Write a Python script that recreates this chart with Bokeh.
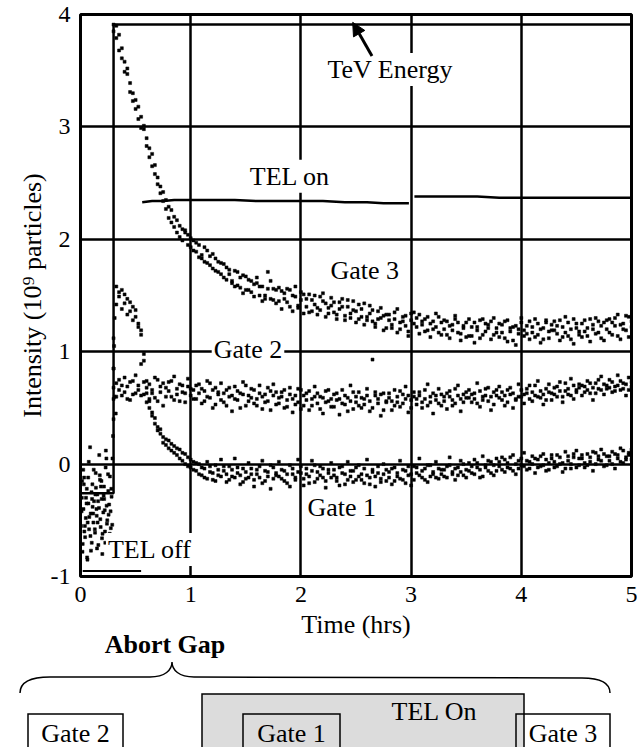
from bokeh.plotting import figure
from bokeh.models import Range1d, FixedTicker, Label, Arrow, NormalHead, Div
from bokeh.layouts import column
from bokeh.embed import file_html
from bokeh.resources import INLINE

FONT = "Liberation Serif"

# ---------------- data ----------------
x_ticks = [0, 1, 2, 3, 4, 5]
x_tick_labels = ["0", "1", "2", "3", "4", "5"]
y_ticks = [-1, 0, 1, 2, 3, 4]
y_tick_labels = ["-1", "0", "1", "2", "3", "4"]

# sample times (hrs) shared by the gate signals
t_hrs = [
    0.300, 0.325, 0.350, 0.375, 0.400, 0.425, 0.450, 0.475, 0.500, 0.525,
    0.550, 0.575, 0.600, 0.625, 0.650, 0.675, 0.700, 0.725, 0.750, 0.775,
    0.800, 0.825, 0.850, 0.875, 0.900, 0.925, 0.950, 0.975, 1.000, 1.025,
    1.050, 1.075, 1.100, 1.125, 1.150, 1.175, 1.200, 1.225, 1.250, 1.275,
    1.300, 1.325, 1.350, 1.375, 1.400, 1.425, 1.450, 1.475, 1.500, 1.525,
    1.550, 1.575, 1.600, 1.625, 1.650, 1.675, 1.700, 1.725, 1.750, 1.775,
    1.800, 1.825, 1.850, 1.875, 1.900, 1.925, 1.950, 1.975, 2.000, 2.025,
    2.050, 2.075, 2.100, 2.125, 2.150, 2.175, 2.200, 2.225, 2.250, 2.275,
    2.300, 2.325, 2.350, 2.375, 2.400, 2.425, 2.450, 2.475, 2.500, 2.525,
    2.550, 2.575, 2.600, 2.625, 2.650, 2.675, 2.700, 2.725, 2.750, 2.775,
    2.800, 2.825, 2.850, 2.875, 2.900, 2.925, 2.950, 2.975, 3.000, 3.025,
    3.050, 3.075, 3.100, 3.125, 3.150, 3.175, 3.200, 3.225, 3.250, 3.275,
    3.300, 3.325, 3.350, 3.375, 3.400, 3.425, 3.450, 3.475, 3.500, 3.525,
    3.550, 3.575, 3.600, 3.625, 3.650, 3.675, 3.700, 3.725, 3.750, 3.775,
    3.800, 3.825, 3.850, 3.875, 3.900, 3.925, 3.950, 3.975, 4.000, 4.025,
    4.050, 4.075, 4.100, 4.125, 4.150, 4.175, 4.200, 4.225, 4.250, 4.275,
    4.300, 4.325, 4.350, 4.375, 4.400, 4.425, 4.450, 4.475, 4.500, 4.525,
    4.550, 4.575, 4.600, 4.625, 4.650, 4.675, 4.700, 4.725, 4.750, 4.775,
    4.800, 4.825, 4.850, 4.875, 4.900, 4.925, 4.950, 4.975, 5.000,
]

gate3 = [
    3.91, 3.79, 3.82, 3.61, 3.58, 3.47, 3.31, 3.30, 3.24, 3.07,
    3.09, 2.98, 2.83, 2.73, 2.76, 2.58, 2.49, 2.47, 2.34, 2.35,
    2.19, 2.26, 2.11, 2.17, 2.02, 2.09, 2.06, 1.95, 2.01, 1.90,
    1.97, 1.84, 1.86, 1.93, 1.79, 1.77, 1.87, 1.72, 1.80, 1.69,
    1.78, 1.64, 1.73, 1.61, 1.58, 1.71, 1.66, 1.52, 1.67, 1.55,
    1.63, 1.49, 1.61, 1.58, 1.45, 1.50, 1.71, 1.47, 1.56, 1.43,
    1.57, 1.38, 1.52, 1.44, 1.55, 1.36, 1.49, 1.41, 1.53, 1.34,
    1.47, 1.51, 1.36, 1.42, 1.33, 1.49, 1.45, 1.31, 1.39, 1.48,
    1.35, 1.29, 1.44, 1.40, 1.28, 1.46, 1.34, 1.37, 1.26, 1.42,
    1.38, 1.24, 1.31, 1.41, 1.27, 1.22, 1.36, 1.30, 1.19, 1.33,
    1.28, 1.21, 1.35, 1.17, 1.26, 1.31, 1.23, 1.18, 1.34, 1.25,
    1.30, 1.16, 1.24, 1.29, 1.19, 1.13, 1.27, 1.22, 1.31, 1.15,
    1.20, 1.27, 1.12, 1.24, 1.29, 1.17, 1.10, 1.23, 1.26, 1.14,
    1.22, 1.08, 1.19, 1.28, 1.15, 1.25, 1.21, 1.11, 1.30, 1.17,
    1.13, 1.24, 1.27, 1.09, 1.18, 1.22, 1.06, 1.20, 1.26, 1.14,
    1.23, 1.11, 1.17, 1.29, 1.15, 1.08, 1.21, 1.26, 1.12, 1.19,
    1.27, 1.16, 1.10, 1.22, 1.31, 1.14, 1.20, 1.07, 1.25, 1.18,
    1.13, 1.28, 1.21, 1.09, 1.24, 1.30, 1.17, 1.12, 1.26, 1.20,
    1.29, 1.15, 1.23, 1.33, 1.11, 1.25, 1.19, 1.31, 1.22,
]
gate3_b = [
    3.85, 3.90, 3.68, 3.70, 3.49, 3.52, 3.39, 3.23, 3.16, 3.18,
    2.99, 3.01, 2.90, 2.81, 2.65, 2.66, 2.55, 2.41, 2.42, 2.27,
    2.29, 2.15, 2.20, 2.06, 2.12, 1.99, 2.08, 2.04, 1.93, 1.99,
    1.89, 1.95, 1.83, 1.80, 1.90, 1.85, 1.74, 1.83, 1.71, 1.79,
    1.66, 1.75, 1.69, 1.63, 1.72, 1.59, 1.57, 1.68, 1.55, 1.64,
    1.53, 1.60, 1.66, 1.50, 1.58, 1.47, 1.56, 1.63, 1.46, 1.55,
    1.45, 1.54, 1.47, 1.56, 1.40, 1.50, 1.58, 1.39, 1.46, 1.51,
    1.40, 1.35, 1.46, 1.50, 1.39, 1.37, 1.52, 1.43, 1.34, 1.41,
    1.44, 1.33, 1.38, 1.47, 1.32, 1.40, 1.30, 1.45, 1.36, 1.29,
    1.31, 1.43, 1.28, 1.34, 1.37, 1.25, 1.29, 1.39, 1.32, 1.21,
    1.33, 1.24, 1.29, 1.38, 1.20, 1.27, 1.32, 1.14, 1.28, 1.35,
    1.22, 1.33, 1.27, 1.18, 1.31, 1.25, 1.20, 1.34, 1.17, 1.26,
    1.28, 1.15, 1.23, 1.19, 1.32, 1.26, 1.16, 1.21, 1.13, 1.29,
    1.14, 1.26, 1.22, 1.12, 1.29, 1.18, 1.24, 1.27, 1.15, 1.21,
    1.25, 1.17, 1.12, 1.28, 1.21, 1.10, 1.23, 1.16, 1.30, 1.19,
    1.16, 1.27, 1.22, 1.13, 1.25, 1.20, 1.11, 1.28, 1.18, 1.24,
    1.19, 1.23, 1.28, 1.13, 1.17, 1.26, 1.11, 1.29, 1.21, 1.15,
    1.25, 1.18, 1.14, 1.29, 1.20, 1.16, 1.27, 1.23, 1.10, 1.28,
    1.17, 1.26, 1.30, 1.14, 1.24, 1.20, 1.32, 1.13, 1.27,
]

gate2 = [
    0.58, 0.72, 0.66, 0.61, 0.77, 0.69, 0.57, 0.74, 0.63, 0.70,
    0.89, 0.62, 0.55, 0.71, 0.66, 0.59, 0.75, 0.64, 0.52, 0.68,
    0.73, 0.60, 0.78, 0.67, 0.56, 0.70, 0.63, 0.76, 0.61, 0.66,
    0.58, 0.71, 0.54, 0.65, 0.74, 0.59, 0.50, 0.68, 0.62, 0.72,
    0.55, 0.66, 0.60, 0.47, 0.69, 0.57, 0.63, 0.73, 0.52, 0.61,
    0.67, 0.54, 0.58, 0.70, 0.49, 0.62, 0.56, 0.65, 0.71, 0.53,
    0.59, 0.64, 0.50, 0.57, 0.68, 0.46, 0.61, 0.55, 0.66, 0.52,
    0.63, 0.48, 0.58, 0.69, 0.54, 0.60, 0.45, 0.65, 0.56, 0.51,
    0.62, 0.57, 0.44, 0.66, 0.53, 0.59, 0.70, 0.49, 0.55, 0.64,
    0.50, 0.58, 0.67, 0.47, 0.93, 0.61, 0.54, 0.43, 0.63, 0.56,
    0.59, 0.48, 0.66, 0.55, 0.51, 0.62, 0.69, 0.46, 0.57, 0.60,
    0.53, 0.64, 0.50, 0.58, 0.71, 0.55, 0.45, 0.61, 0.67, 0.52,
    0.60, 0.49, 0.65, 0.57, 0.54, 0.70, 0.47, 0.62, 0.59, 0.66,
    0.55, 0.63, 0.72, 0.51, 0.60, 0.67, 0.56, 0.48, 0.64, 0.61,
    0.69, 0.57, 0.52, 0.66, 0.62, 0.50, 0.58, 0.71, 0.60, 0.54,
    0.63, 0.70, 0.56, 0.61, 0.74, 0.59, 0.53, 0.67, 0.64, 0.57,
    0.68, 0.60, 0.73, 0.55, 0.65, 0.62, 0.76, 0.58, 0.66, 0.71,
    0.61, 0.69, 0.74, 0.63, 0.57, 0.72, 0.67, 0.78, 0.62, 0.70,
    0.75, 0.64, 0.69, 0.79, 0.66, 0.72, 0.61, 0.77, 0.73,
]
gate2_b = [
    0.68, 0.60, 0.75, 0.70, 0.64, 0.58, 0.73, 0.62, 0.79, 0.66,
    0.61, 0.73, 0.68, 0.58, 0.63, 0.77, 0.56, 0.69, 0.72, 0.60,
    0.65, 0.74, 0.57, 0.62, 0.71, 0.64, 0.55, 0.69, 0.67, 0.58,
    0.70, 0.63, 0.67, 0.56, 0.60, 0.72, 0.66, 0.53, 0.64, 0.57,
    0.63, 0.52, 0.68, 0.61, 0.58, 0.65, 0.50, 0.62, 0.70, 0.56,
    0.59, 0.66, 0.52, 0.63, 0.60, 0.55, 0.68, 0.48, 0.61, 0.64,
    0.54, 0.60, 0.66, 0.51, 0.62, 0.58, 0.53, 0.67, 0.49, 0.61,
    0.57, 0.65, 0.52, 0.60, 0.63, 0.49, 0.59, 0.55, 0.66, 0.58,
    0.51, 0.63, 0.58, 0.54, 0.61, 0.47, 0.56, 0.64, 0.60, 0.52,
    0.59, 0.53, 0.61, 0.56, 0.50, 0.64, 0.58, 0.62, 0.48, 0.55,
    0.63, 0.56, 0.52, 0.60, 0.65, 0.54, 0.58, 0.61, 0.50, 0.64,
    0.58, 0.61, 0.55, 0.66, 0.52, 0.60, 0.63, 0.57, 0.54, 0.62,
    0.56, 0.63, 0.60, 0.52, 0.67, 0.61, 0.58, 0.55, 0.64, 0.59,
    0.62, 0.58, 0.54, 0.65, 0.57, 0.61, 0.68, 0.60, 0.53, 0.66,
    0.59, 0.64, 0.61, 0.55, 0.68, 0.63, 0.57, 0.60, 0.66, 0.62,
    0.67, 0.58, 0.64, 0.70, 0.60, 0.65, 0.62, 0.57, 0.71, 0.63,
    0.62, 0.69, 0.65, 0.60, 0.72, 0.67, 0.61, 0.70, 0.64, 0.68,
    0.70, 0.64, 0.66, 0.72, 0.68, 0.63, 0.75, 0.66, 0.71, 0.67,
    0.68, 0.73, 0.65, 0.70, 0.74, 0.67, 0.71, 0.66, 0.69,
]

gate1 = [
    1.12, 1.58, 1.49, 1.55, 1.43, 1.47, 1.36, 1.40, 1.31, 1.25,
    1.19, 0.92, 0.74, 0.56, 0.46, 0.41, 0.33, 0.27, 0.24, 0.17,
    0.21, 0.12, 0.16, 0.08, 0.13, 0.03, 0.09, -0.02, 0.04, -0.05,
    0.01, -0.09, -0.03, -0.12, 0.02, -0.07, -0.14, -0.01, -0.10, 0.04,
    -0.06, -0.16, -0.02, -0.11, 0.05, -0.08, -0.18, -0.04, -0.13, 0.01,
    -0.09, -0.20, -0.05, -0.12, 0.03, -0.15, -0.07, -0.22, -0.03, -0.10,
    0.02, -0.13, -0.06, -0.17, -0.01, -0.09, -0.14, 0.04, -0.08, -0.19,
    -0.04, -0.11, 0.03, -0.16, -0.07, -0.02, -0.12, -0.21, -0.05, 0.01,
    -0.10, -0.15, -0.03, -0.08, -0.18, 0.02, -0.11, -0.06, -0.14, -0.01,
    -0.09, -0.17, 0.04, -0.12, -0.05, -0.20, -0.08, -0.13, 0.00, -0.15,
    -0.07, -0.18, -0.03, -0.11, 0.03, -0.14, -0.06, -0.10, -0.19, -0.02,
    -0.08, 0.05, -0.12, -0.04, -0.16, -0.01, -0.09, 0.02, -0.13, -0.05,
    -0.11, -0.02, 0.06, -0.07, -0.14, -0.03, 0.03, -0.10, -0.05, 0.01,
    -0.08, 0.04, -0.03, -0.12, 0.07, -0.01, -0.06, 0.02, -0.10, 0.05,
    -0.02, 0.06, -0.07, 0.01, -0.04, 0.08, -0.09, 0.03, -0.01, 0.10,
    -0.05, 0.02, 0.07, -0.08, 0.04, -0.02, 0.09, -0.06, 0.01, 0.05,
    -0.03, 0.08, 0.00, -0.07, 0.11, 0.03, -0.04, 0.06, 0.12, -0.01,
    0.05, -0.03, 0.09, 0.02, -0.06, 0.10, 0.04, 0.13, -0.02, 0.07,
    0.03, 0.11, -0.04, 0.08, 0.14, 0.01, 0.06, 0.10, 0.04,
]
gate1_b = [
    0.85, 1.42, 1.53, 1.38, 1.51, 1.33, 1.44, 1.28, 1.37, 1.22,
    1.15, 0.98, 0.63, 0.50, 0.43, 0.36, 0.30, 0.31, 0.19, 0.22,
    0.14, 0.18, 0.10, 0.14, 0.05, 0.10, 0.00, 0.06, -0.03, 0.02,
    -0.06, 0.00, -0.10, -0.04, -0.13, -0.02, -0.08, -0.15, -0.05, -0.11,
    -0.02, -0.09, -0.14, -0.05, -0.12, -0.03, -0.10, -0.16, -0.07, -0.12,
    -0.04, -0.14, -0.09, -0.02, -0.17, -0.06, -0.11, -0.01, -0.13, -0.08,
    -0.11, -0.05, -0.15, -0.09, -0.20, -0.04, -0.12, -0.07, -0.02, -0.13,
    -0.09, -0.17, -0.06, -0.01, -0.13, -0.10, -0.04, -0.15, -0.08, -0.12,
    -0.05, -0.12, -0.19, -0.02, -0.09, -0.14, -0.06, -0.16, -0.03, -0.11,
    -0.14, -0.04, -0.10, -0.18, -0.07, -0.11, -0.02, -0.16, -0.09, -0.05,
    -0.12, -0.04, -0.15, -0.08, -0.13, -0.05, -0.17, -0.02, -0.09, -0.14,
    -0.03, -0.10, -0.06, -0.14, -0.01, -0.11, -0.07, -0.12, -0.04, -0.09,
    -0.05, -0.12, -0.01, -0.09, -0.04, -0.10, -0.07, 0.00, -0.12, -0.06,
    -0.02, -0.09, 0.01, -0.05, -0.11, -0.03, 0.03, -0.08, -0.01, -0.06,
    0.02, -0.05, 0.04, -0.03, 0.06, -0.06, 0.00, -0.04, 0.05, -0.02,
    0.03, -0.04, 0.00, 0.05, -0.03, 0.07, -0.01, 0.04, -0.05, 0.08,
    0.02, -0.02, 0.06, 0.01, -0.04, 0.07, 0.00, 0.09, -0.03, 0.05,
    0.08, 0.01, -0.01, 0.06, 0.11, 0.00, 0.07, 0.03, 0.09, -0.01,
    0.07, 0.00, 0.09, 0.05, 0.02, 0.12, 0.04, 0.08, 0.13,
]

# injection (TEL off, before the ramp) and ramp samples
inj_t = [
    0.01, 0.02, 0.03, 0.04, 0.05, 0.06, 0.07, 0.08, 0.09, 0.10,
    0.11, 0.12, 0.13, 0.14, 0.15, 0.16, 0.17, 0.18, 0.19, 0.20,
    0.21, 0.22, 0.23, 0.24, 0.25, 0.26, 0.27, 0.28,
    0.015, 0.035, 0.055, 0.075, 0.095, 0.115, 0.135, 0.155, 0.175, 0.195,
    0.215, 0.235, 0.255, 0.275,
    0.025, 0.065, 0.105, 0.145, 0.185, 0.225, 0.265,
    0.005, 0.012, 0.018, 0.027, 0.033, 0.042, 0.048, 0.057, 0.063, 0.072,
    0.078, 0.087, 0.093, 0.102, 0.108, 0.117, 0.123, 0.132, 0.138, 0.147,
    0.153, 0.162, 0.168, 0.177, 0.183, 0.192, 0.198, 0.207, 0.213, 0.222,
    0.228, 0.237, 0.243, 0.252, 0.258, 0.267, 0.273, 0.282, 0.288,
    0.29, 0.295, 0.30, 0.30, 0.305, 0.31, 0.31, 0.32,
]
inj_v = [
    -0.42, -0.71, -0.18, -0.55, -0.30, -0.83, -0.12, -0.47, -0.64, -0.25,
    -0.38, -0.05, -0.58, -0.21, -0.75, -0.33, 0.08, -0.49, -0.15, -0.62,
    -0.28, -0.41, 0.12, -0.53, -0.09, -0.36, -0.68, -0.22,
    -0.15, -0.60, -0.35, 0.02, -0.77, -0.44, -0.27, -0.52, -0.10, -0.66,
    -0.31, 0.05, -0.45, -0.57,
    -0.05, -0.52, -0.31, -0.40, -0.20, -0.70, -0.62,
    -0.55, -0.30, -0.78, -0.40, -0.12, -0.65, -0.48, -0.22, -0.85, -0.35,
    -0.58, 0.15, -0.44, -0.70, -0.18, -0.52, -0.33, -0.61, -0.08, -0.46,
    -0.27, -0.72, -0.39, -0.14, -0.56, -0.31, -0.80, -0.43, -0.20, -0.60,
    -0.03, -0.37, -0.50, -0.24, -0.66, -0.11, -0.42, -0.29, -0.54,
    0.05, 0.25, 0.40, 0.85, 1.05, 0.60, 1.30, 0.45,
]

tel_on_t1 = [0.56, 0.65, 0.75, 0.85, 0.95, 1.05, 1.2, 1.4, 1.6, 1.8, 2.0,
             2.2, 2.4, 2.6, 2.75, 2.9, 2.98]
tel_on_v1 = [2.33, 2.34, 2.34, 2.35, 2.35, 2.35, 2.35, 2.35, 2.34, 2.34, 2.34,
             2.34, 2.33, 2.33, 2.32, 2.32, 2.32]
tel_on_t2 = [3.03, 3.2, 3.4, 3.6, 3.8, 4.0, 4.2, 4.4, 4.6, 4.8, 5.0]
tel_on_v2 = [2.38, 2.38, 2.38, 2.38, 2.37, 2.37, 2.37, 2.37, 2.37, 2.37, 2.37]

tel_off_t = [0.02, 0.55]
tel_off_v = [-0.95, -0.95]

energy_t = [0.0, 0.30, 0.30, 5.0]
energy_v = [-0.26, -0.26, 3.91, 3.91]

# abort-gap schematic: (label, left, right, top) in page pixels
gap_boxes = [("Gate 2", 28, 123, 714), ("Gate 1", 243, 340, 714), ("Gate 3", 516, 610, 714)]
tel_box = ("TEL On", 202, 524, 694)

# ---------------- main chart ----------------
p = figure(width=637, height=641, x_range=Range1d(0, 5), y_range=Range1d(-1, 4),
           output_backend="svg", toolbar_location=None,
           min_border_left=80, min_border_right=6, min_border_top=14,
           min_border_bottom=65, background_fill_color="white",
           border_fill_color="white")

p.xaxis.ticker = FixedTicker(ticks=x_ticks)
p.yaxis.ticker = FixedTicker(ticks=y_ticks)
p.xaxis.major_label_overrides = {t: s for t, s in zip(x_ticks, x_tick_labels)}
p.yaxis.major_label_overrides = {t: s for t, s in zip(y_ticks, y_tick_labels)}

for ax in p.axis:
    ax.axis_line_color = None
    ax.major_tick_line_color = None
    ax.minor_tick_line_color = None
    ax.major_label_text_font = FONT
    ax.major_label_text_font_size = "24px"
    ax.major_label_text_color = "black"
    ax.axis_label_text_font = FONT
    ax.axis_label_text_font_size = "26px"
    ax.axis_label_text_font_style = "normal"
    ax.axis_label_text_color = "black"

p.xaxis.axis_label = "Time (hrs)"
p.xaxis.major_label_standoff = 4
p.xaxis.axis_label_standoff = 5
p.yaxis.axis_label = "Intensity (10\u2079 particles)"
p.yaxis.major_label_standoff = 4
p.yaxis.axis_label_standoff = 1

p.grid.grid_line_color = "black"
p.grid.grid_line_width = 2.5
p.grid.grid_line_alpha = 1.0
p.outline_line_color = "black"
p.outline_line_width = 3
p.outline_line_alpha = 1.0

# signals
p.line(energy_t, energy_v, line_color="black", line_width=2.5)
p.line(tel_on_t1, tel_on_v1, line_color="black", line_width=2.5)
p.line(tel_on_t2, tel_on_v2, line_color="black", line_width=2.5)
p.line(tel_off_t, tel_off_v, line_color="black", line_width=2)

dot = dict(marker="square", size=3, fill_color="black", line_color="black", line_width=0.5)
p.scatter(inj_t, inj_v, **dot)
p.scatter(t_hrs, gate3, **dot)
p.scatter(t_hrs, gate3_b, **dot)
p.scatter(t_hrs, gate2, **dot)
p.scatter(t_hrs, gate2_b, **dot)
p.scatter(t_hrs, gate1, **dot)
p.scatter(t_hrs, gate1_b, **dot)

def note(x, y, text):
    p.add_layout(Label(x=x, y=y, text=text, text_font=FONT, text_font_size="26px",
                       text_color="black", text_align="center",
                       text_baseline="middle", background_fill_color="white",
                       padding=2))

note(2.81, 3.51, "TeV Energy")
note(1.90, 2.56, "TEL on")
note(2.58, 1.72, "Gate 3")
note(1.52, 1.02, "Gate 2")
note(2.37, -0.39, "Gate 1")
note(0.63, -0.76, "TEL off")

p.add_layout(Arrow(end=NormalHead(size=13, fill_color="black", line_color="black"),
                   x_start=2.645, y_start=3.63, x_end=2.47, y_end=3.93,
                   line_color="black", line_width=3))

# ---------------- abort gap schematic (inline SVG, page pixel coordinates) ----------------
top = 628
height = 747 - top
serif = "font-family: 'Liberation Serif', 'Times New Roman', serif;"
svg = [f'<svg xmlns="http://www.w3.org/2000/svg" width="637" height="{height}" '
       f'viewBox="0 {top} 637 {height}" style="display:block; {serif}">']
svg.append(f'<text x="165" y="653" text-anchor="middle" '
           f'style="{serif} font-size: 26px; font-weight: bold; fill: black;">Abort Gap</text>')
svg.append('<path d="M20,693 C20,682 30,677 50,677 L150,677 C165,677 172,670 172,662 '
           'C172,670 179,677 194,677 L582,678 C601,678 610,683 610,693" '
           'fill="none" stroke="black" stroke-width="1.5"/>')
name, l, r, t = tel_box
svg.append(f'<rect x="{l}" y="{t}" width="{r - l}" height="60" fill="#dcdcdc" '
           f'stroke="black" stroke-width="1.5"/>')
svg.append(f'<text x="{(l + r) / 2 + 71}" y="720" text-anchor="middle" '
           f'style="{serif} font-size: 26px; fill: black;">{name}</text>')
for name, l, r, t in gap_boxes:
    svg.append(f'<rect x="{l}" y="{t}" width="{r - l}" height="40" fill="none" '
               f'stroke="black" stroke-width="1.5"/>')
    svg.append(f'<text x="{(l + r) / 2}" y="742" text-anchor="middle" '
               f'style="{serif} font-size: 26px; fill: black;">{name}</text>')
svg.append('</svg>')

d = Div(text="".join(svg), width=637, height=height, margin=(top - 641, 0, 0, 0))

layout = column(p, d)
open("out.html", "w").write(file_html(layout, INLINE))
